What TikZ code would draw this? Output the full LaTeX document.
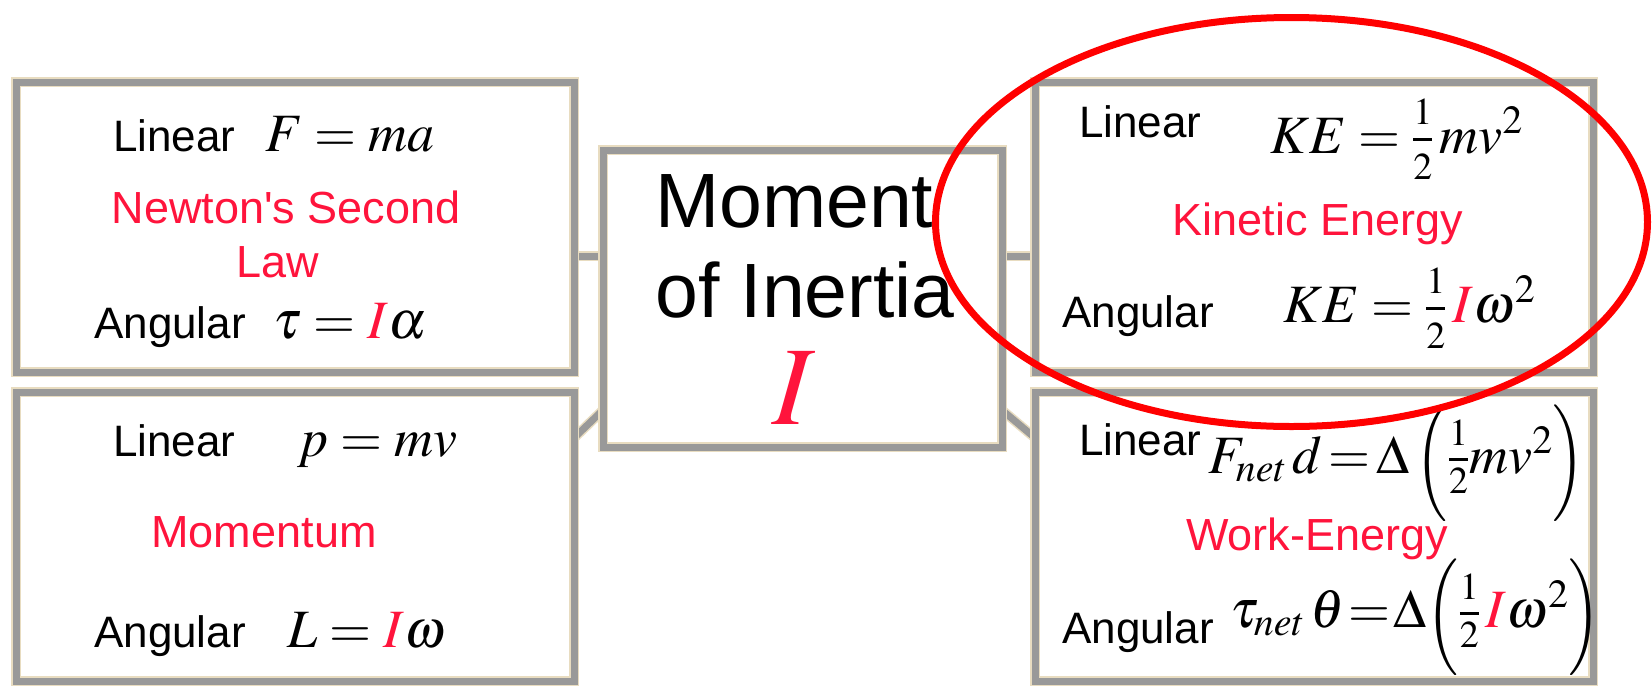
\documentclass[tikz,border=0pt]{standalone}
\usepackage{amsmath}
\usepackage{graphicx}
\usepackage{mathptmx}
\usepackage[no-math]{fontspec}
\setmainfont{Liberation Sans}
\usetikzlibrary{backgrounds}
\definecolor{txtred}{RGB}{255,20,60}
\definecolor{ringred}{RGB}{255,0,0}
\definecolor{bordergray}{RGB}{153,153,153}
\definecolor{edgebeige}{RGB}{232,220,192}
\newcommand{\fracdigit}[1]{\mbox{\fontsize{38}{40}\selectfont$#1$}}
\newcommand{\halfup}[2]{\genfrac{}{}{}{1}{\raisebox{#1}{\fracdigit{1}}}{\raisebox{-#2}{\fracdigit{2}}}}
\newcommand{\lparen}{\mathopen{\raisebox{-6pt}{\scalebox{1}[1.2]{$\Bigl($}}}}
\newcommand{\rparen}{\mathclose{\raisebox{-6pt}{\scalebox{1}[1.2]{$\Bigr)$}}}}
\tikzset{
  box/.style={draw=edgebeige, double=bordergray, double distance=7pt, line width=1.5pt, fill=white, inner sep=0pt},
  link/.style={draw=edgebeige, double=bordergray, double distance=7pt, line width=1.5pt},
  word/.style={anchor=base west, inner sep=0pt, font=\fontsize{44}{50}\selectfont},
  redword/.style={anchor=base, inner sep=0pt, text=txtred, font=\fontsize{45}{50}\selectfont},
  formula/.style={anchor=base west, inner sep=0pt, font=\fontsize{54}{60}\selectfont},
  titleword/.style={anchor=base west, inner sep=0pt, font=\fontsize{77}{90}\selectfont},
  ring/.style={draw=ringred, line width=7pt}
}
\begin{document}
\begin{tikzpicture}[x=1pt,y=-1pt]
\useasboundingbox (0,0) rectangle (1652,686);
% boxes
\node[box, minimum width=558pt, minimum height=290pt] (tl) at (295,227) {};
\node[box, minimum width=558pt, minimum height=289pt] (bl) at (295,536.5) {};
\node[box, minimum width=399pt, minimum height=297pt] (c) at (802.5,298.5) {};
\node[box, minimum width=558pt, minimum height=290pt] (tr) at (1314,227) {};
\node[box, minimum width=558pt, minimum height=289pt] (br) at (1314,536.5) {};
\coordinate (lj) at (588,256);
\coordinate (rj) at (1018,256);
\begin{scope}[on background layer]
\fill[white] (0,0) rectangle (1652,686);
\draw[link] (tl.east |- lj) -- (c.west |- lj);
\draw[link] (c.east |- rj) -- (tr.west |- rj);
\draw[link] ([yshift=-46pt]bl.north east) -- ([yshift=37pt]c.south west);
\draw[link] ([yshift=37pt]c.south east) -- ([yshift=-46pt]br.north west);
\end{scope}
% top-left
\node[word] (tl1) at (113,151) {Linear};
\node[formula] (tl2) at (265,151) {$F = ma$};
\node[redword] (tl3) at (286,223) {Newton\textquotesingle s Second};
\node[redword] (tl4) at (278,277) {Law};
\node[word] (tl5) at (94,338) {Angular};
\node[formula] (tl6) at (273,338) {$\tau = {\color{txtred}I}\alpha$};
% bottom-left
\node[word] (bl1) at (113,456) {Linear};
\node[formula] (bl2) at (297,456) {$p = mv$};
\node[redword] (bl3) at (264,547) {Momentum};
\node[word] (bl4) at (94,647) {Angular};
\node[formula] (bl5) at (287,647) {$L = {\color{txtred}I}\omega$};
% center
\node[titleword] (c1) at (655,227) {Moment};
\node[titleword] (c2) at (655,317) {of Inertia};
\node[anchor=base, inner sep=0pt, text=txtred, font=\fontsize{112}{120}\selectfont] (c3) at (794,424) {$I$};
% top-right
\node[word] (tr1) at (1079,137) {Linear};
\node[formula] (tr2) at (1270,153) {$KE = \halfup{7pt}{8pt}\,mv^2$};
\node[redword] (tr3) at (1318,235) {Kinetic Energy};
\node[word] (tr4) at (1062,327) {Angular};
\node[formula] (tr5) at (1283,322) {$KE = \halfup{7pt}{8pt}\,{\color{txtred}I}\omega^2$};
% bottom-right
\node[word] (br1) at (1079,455) {Linear};
\node[formula] (br2) at (1208,473) {$\thickmuskip=2mu F_{net}\,d=\Delta\,\lparen\halfup{6pt}{2pt}mv^2\rparen$};
\node[redword] (br3) at (1317,550) {Work-Energy};
\node[word] (br4) at (1062,643) {Angular};
\node[formula] (br5) at (1230,627) {$\thickmuskip=1mu \tau_{net}\,\theta=\Delta\lparen\halfup{6pt}{2pt}\,{\color{txtred}I}\omega^2\rparen$};
% highlight ring
\draw[ring] (1291.5,222) ellipse [x radius=356pt, y radius=204.5pt];
\end{tikzpicture}
\end{document}
